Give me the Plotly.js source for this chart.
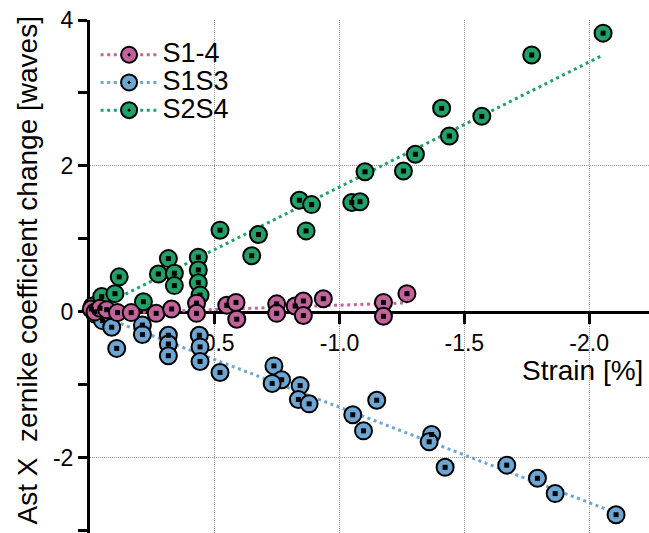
<!DOCTYPE html>
<html><head><meta charset="utf-8">
<script src="https://cdn.plot.ly/plotly-3.0.1.min.js"></script>
<style>html,body{margin:0;padding:0;background:#fff}#chart{width:649px;height:533px}</style>
</head><body><div id="chart"></div>
<script>
// ---- data ----
const seriesNames = ['S1-4', 'S1S3', 'S2S4'];
const seriesColors = ['#c2649b', '#6ea6d3', '#21a167'];

const s14X = [-0.005, -0.02, -0.04, -0.067, -0.11, -0.165, -0.265, -0.327, -0.427, -0.427, -0.548, -0.585, -0.588, -0.748, -0.748, -0.822, -0.855, -0.855, -0.935, -1.176, -1.176, -1.27];
const s14Y = [0.04, 0.00, 0.05, 0.03, -0.01, -0.01, -0.02, 0.04, 0.12, -0.02, 0.09, 0.13, -0.10, 0.11, -0.02, 0.08, 0.15, -0.05, 0.18, 0.13, -0.06, 0.25];

const s13X = [-0.02, -0.05, -0.087, -0.107, -0.21, -0.21, -0.314, -0.314, -0.314, -0.438, -0.441, -0.441, -0.521, -0.737, -0.768, -0.730, -0.842, -0.835, -0.878, -1.053, -1.096, -1.149, -1.369, -1.359, -1.423, -1.670, -1.793, -1.864, -2.108];
const s13Y = [-0.03, -0.12, -0.21, -0.50, -0.18, -0.31, -0.32, -0.44, -0.60, -0.32, -0.48, -0.68, -0.83, -0.74, -0.93, -0.98, -1.01, -1.20, -1.26, -1.41, -1.63, -1.21, -1.68, -1.78, -2.13, -2.10, -2.28, -2.49, -2.78];

const s24X = [-0.01, -0.047, -0.10, -0.117, -0.214, -0.274, -0.314, -0.338, -0.338, -0.434, -0.434, -0.434, -0.441, -0.521, -0.648, -0.675, -0.839, -0.866, -0.888, -1.049, -1.082, -1.102, -1.256, -1.304, -1.409, -1.440, -1.570, -1.770, -2.056];
const s24Y = [0.08, 0.21, 0.25, 0.48, 0.14, 0.52, 0.73, 0.53, 0.36, 0.75, 0.575, 0.40, 0.23, 1.12, 0.77, 1.06, 1.53, 1.11, 1.47, 1.50, 1.51, 1.92, 1.93, 2.16, 2.79, 2.41, 2.68, 3.52, 3.82];

// linear trend lines (end points)
const fit14X = [0, -1.27], fit14Y = [-0.03, 0.125];
const fit13X = [0, -2.108], fit13Y = [0, -2.755];
const fit24X = [0, -2.056], fit24Y = [0, 3.52];

const xTickVals = [-0.5, -1.0, -1.5, -2.0];
const xTickText = ['-0.5', '-1.0', '-1.5', '-2.0'];
const yTickVals = [-2, 0, 2, 4];
const yTickText = ['-2', '0', '2', '4'];
const yMinorVals = [-3, -1, 1, 3];

const xTitle = 'Strain [%]';
const yTitle = 'Ast X  zernike coefficient change [waves]';

// ---- traces ----
const DASH = '3px,3.6px';
function fitTrace(x, y, c) {
  return {x: x, y: y, mode: 'lines', line: {color: c, width: 3, dash: DASH}, showlegend: false, hoverinfo: 'skip', cliponaxis: false};
}
function ptTraces(x, y, c) {
  return [
    {x: x, y: y, mode: 'markers', marker: {symbol: 'circle', size: 17, color: c, line: {color: 'black', width: 2}}, showlegend: false, cliponaxis: false},
    {x: x, y: y, mode: 'markers', marker: {symbol: 'square', size: 5, color: 'black'}, showlegend: false, hoverinfo: 'skip', cliponaxis: false}
  ];
}
function legTrace(i) {
  return {x: [null], y: [null], mode: 'lines+markers', name: '<span style="font-size:27px">' + seriesNames[i] + '</span>',
    line: {color: seriesColors[i], width: 3, dash: DASH},
    marker: {symbol: 'circle-dot', size: 17, color: seriesColors[i], line: {color: 'black', width: 2}}, showlegend: true};
}

const data = [
  fitTrace(fit13X, fit13Y, seriesColors[1]),
  fitTrace(fit24X, fit24Y, seriesColors[2]),
  fitTrace(fit14X, fit14Y, seriesColors[0]),
  ...ptTraces(s13X, s13Y, seriesColors[1]),
  ...ptTraces(s24X, s24Y, seriesColors[2]),
  ...ptTraces(s14X, s14Y, seriesColors[0]),
  legTrace(0), legTrace(1), legTrace(2)
];

const layout = {
  width: 649, height: 533,
  margin: {l: 90, r: 0, t: 20, b: 0, pad: 0},
  paper_bgcolor: 'white', plot_bgcolor: 'white',
  font: {family: 'Liberation Sans, Arial, sans-serif', color: 'black'},
  showlegend: true,
  legend: {x: 0.01, y: 0.969, xanchor: 'left', yanchor: 'top', font: {size: 19}, bgcolor: 'rgba(0,0,0,0)', itemwidth: 57, tracegroupgap: 0, traceorder: 'normal'},
  xaxis: {
    range: [0, -2.24], anchor: 'free', position: 0.431,
    showline: true, linewidth: 3, linecolor: 'black',
    ticks: 'outside', ticklen: 10, tickwidth: 3, tickcolor: 'black',
    tickmode: 'array', tickvals: xTickVals, ticktext: xTickText, tickfont: {size: 23},
    showgrid: true, gridcolor: '#999', gridwidth: 1, griddash: '1px,1px',
    zeroline: false, layer: 'below traces'
  },
  yaxis: {
    range: [-3.03, 4],
    showline: true, linewidth: 3, linecolor: 'black',
    ticks: 'outside', ticklen: 9, tickwidth: 3, tickcolor: 'black',
    tickmode: 'array', tickvals: yTickVals, ticktext: yTickText, tickfont: {size: 23},
    minor: {tickmode: 'array', tickvals: yMinorVals, ticks: 'outside', ticklen: 9, tickwidth: 3, tickcolor: 'black', showgrid: false},
    showgrid: true, gridcolor: '#999', gridwidth: 1, griddash: '1px,1px',
    zeroline: false, layer: 'below traces'
  },
  annotations: [
    {text: xTitle, xref: 'paper', yref: 'paper', x: 1, xanchor: 'right', xshift: -4, y: 0.3158, yanchor: 'middle', showarrow: false, font: {size: 28}},
    {text: yTitle, xref: 'paper', yref: 'paper', x: -0.1127, xanchor: 'center', y: 0.5117, yanchor: 'middle', textangle: -90, showarrow: false, font: {size: 28}}
  ]
};

Plotly.newPlot('chart', data, layout, {displayModeBar: false, staticPlot: true});
</script>
</body></html>
